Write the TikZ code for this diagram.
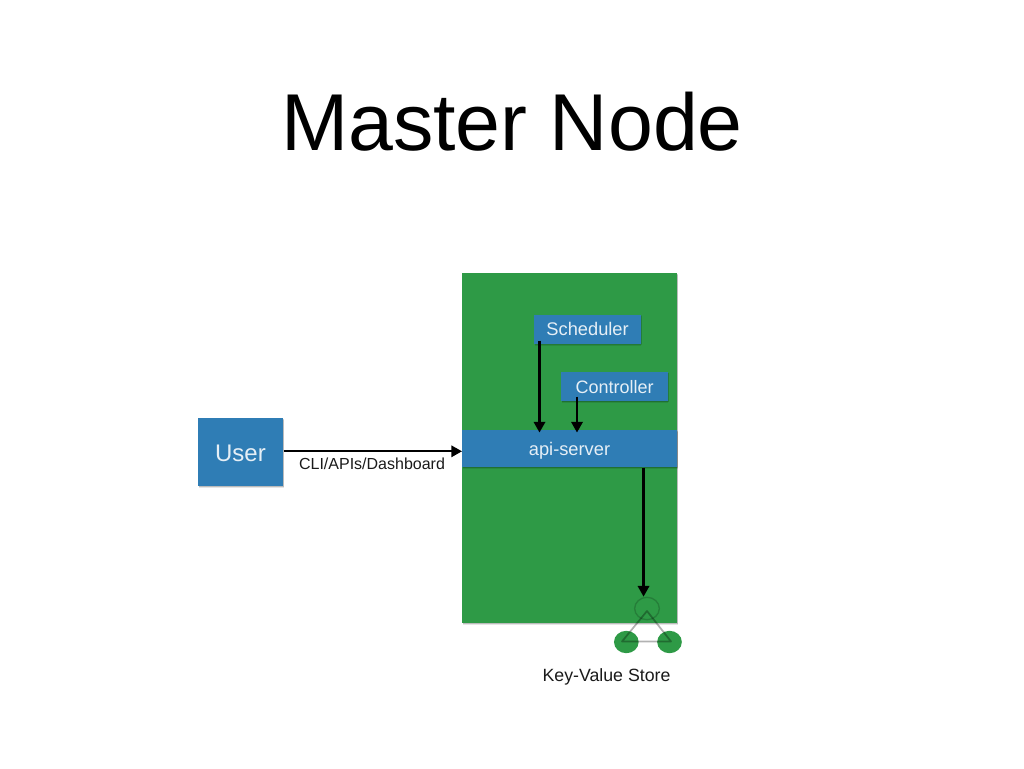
\documentclass[tikz,border=0pt]{standalone}
\usepackage{fontspec}
\setmainfont{Liberation Sans}
\usetikzlibrary{shadows,arrows.meta,shapes.geometric}
\definecolor{kgreen}{HTML}{2E9A46}
\definecolor{kblue}{HTML}{2F7DB5}
\definecolor{ktext}{HTML}{1A1A1A}
\colorlet{ksoft}{white!88!kblue}
\tikzset{
  softshadow/.style={
    general shadow={shadow xshift=0.9pt,shadow yshift=-0.3pt,fill=black,opacity=0.07},
    general shadow={shadow xshift=0.3pt,shadow yshift=-1.6pt,fill=black,opacity=0.10},
    general shadow={shadow xshift=0.5pt,shadow yshift=-0.9pt,fill=black,opacity=0.12}},
  bluebox/.style={fill=kblue,text=ksoft,inner sep=0pt,anchor=north west,softshadow},
  arr/.style={draw=black,line width=1.7pt,-{Triangle[length=8pt,width=8.5pt]}},
  storenode/.style={ellipse,fill=kgreen,inner sep=0pt,minimum width=18.5pt,minimum height=16.8pt},
  link/.style={draw=black,draw opacity=0.3,line width=1.3pt},
  plain/.style={text=ktext,inner sep=0pt}
}
\begin{document}
\begin{tikzpicture}[x=0.75pt,y=-0.75pt]
\useasboundingbox (0,0) rectangle (1024,768);
\node[plain,text=black,font=\fontsize{60.5}{60}\selectfont] (title) at (512,122) {Master Node};
\node[fill=kgreen,anchor=north west,inner sep=0pt,minimum width=161.25pt,minimum height=262.5pt,softshadow] (master) at (462,273) {};
\node[bluebox,minimum width=161.25pt,minimum height=27.75pt] (api) at (462,430) {};
\node[text=ksoft,inner sep=0pt,font=\fontsize{13.7}{15}\selectfont] (apilabel) at (569.5,451) {api-server};
\node[bluebox,minimum width=80pt,minimum height=21.75pt,font=\fontsize{13.7}{15}\selectfont] (sched) at (534,314.5) {Scheduler};
\node[bluebox,minimum width=80pt,minimum height=21.75pt,font=\fontsize{13.5}{15}\selectfont] (ctrl) at (561,372) {Controller};
\node[bluebox,minimum width=63.75pt,minimum height=51pt] (user) at (198,418) {};
\node[text=ksoft,inner sep=0pt,font=\fontsize{18}{20}\selectfont] (userlabel) at (240.5,453.5) {User};
\node[plain,font=\fontsize{12}{14}\selectfont] (cli) at (372,464) {CLI/APIs/Dashboard};
\node[storenode,draw=black,draw opacity=0.18,line width=1pt] (kvtop) at (647,608.5) {};
\node[storenode] (kvleft) at (626.3,642) {};
\node[storenode] (kvright) at (669.5,642) {};
\node[plain,font=\fontsize{13.3}{15}\selectfont] (kvlabel) at (606.5,676.5) {Key-Value Store};
\coordinate (tA) at (647,611);
\coordinate (tB) at (622,641.5);
\coordinate (tC) at (671,641.5);
\draw[link,line join=round] (tA) -- (tB) -- (tC) -- cycle;
% connectors
\coordinate (userIn) at ([yshift=-1.9pt]api.west);
\draw[arr] (user.east |- userIn) -- (userIn);
\coordinate (schedOut) at ([shift={(5.5,-3.5)}]sched.south west);
\coordinate (schedIn) at ([yshift=-1.9pt]api.north);
\draw[arr] (schedOut) -- (schedOut |- schedIn);
\coordinate (ctrlOut) at ([shift={(16,-5)}]ctrl.south west);
\draw[arr] (ctrlOut) -- (ctrlOut |- schedIn);
\coordinate (apiOut) at ([xshift=-25.5pt]api.south east);
\draw[arr] (apiOut) -- (apiOut |- kvtop.north);
\end{tikzpicture}
\end{document}
